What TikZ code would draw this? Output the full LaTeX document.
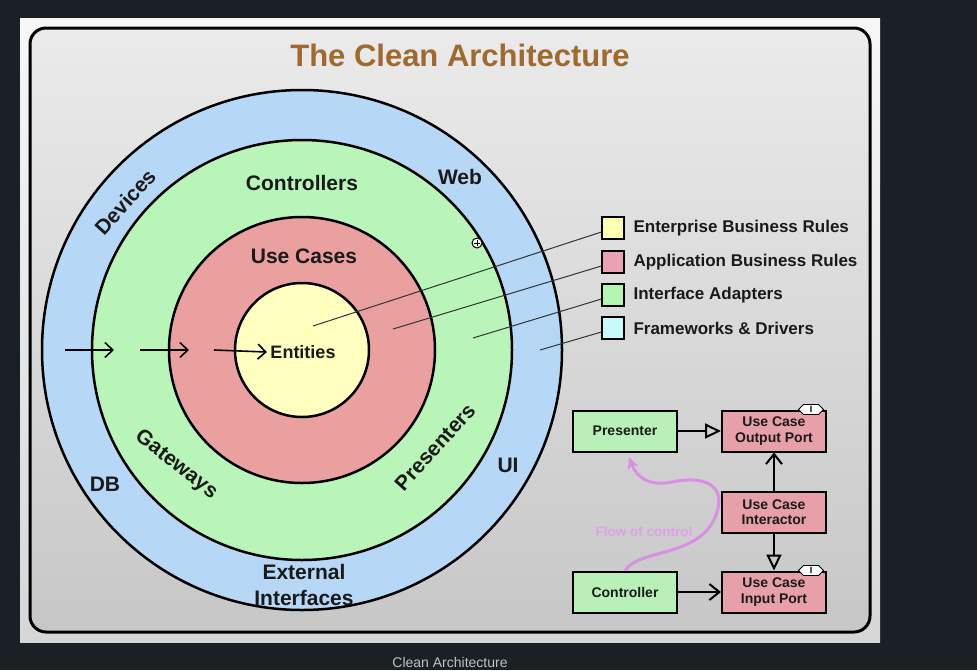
\documentclass[tikz,border=0pt]{standalone}
\usepackage{fontspec}
\setmainfont{Liberation Sans}
\usetikzlibrary{arrows.meta,shapes.symbols}

\definecolor{darkbg}{HTML}{1B2027}
\definecolor{ttl}{HTML}{A0692E}
\definecolor{txt}{HTML}{1A1A1A}
\definecolor{cBlue}{HTML}{B6D7F5}
\definecolor{cGreen}{HTML}{B9F5B9}
\definecolor{cRed}{HTML}{EBA0A0}
\definecolor{cYellow}{HTML}{FFFFC0}
\definecolor{kYellow}{HTML}{FFFFB3}
\definecolor{kPink}{HTML}{EBA0B4}
\definecolor{kGreen}{HTML}{B3F5B3}
\definecolor{kCyan}{HTML}{C8FAFA}
\definecolor{bGreen}{HTML}{B9F0B9}
\definecolor{bRed}{HTML}{E8A0A8}
\definecolor{flow}{HTML}{D990E4}
\definecolor{capgray}{HTML}{BFC2C6}

\tikzset{
	ring/.style={draw=black, line width=2.5pt},
	lbl/.style={font=\fontsize{21}{24}\selectfont\bfseries, text=txt},
	key/.style={draw=black, line width=1.2pt, minimum size=22pt, inner sep=0pt},
	keytext/.style={anchor=west, font=\fontsize{17}{20}\selectfont\bfseries, text=txt},
	box/.style={draw=black, line width=2pt, minimum width=104pt, minimum height=41pt, inner sep=0pt, align=center, font=\fontsize{14}{15.5}\selectfont\bfseries, text=txt},
	lead/.style={line width=1pt, black!80},
	into/.style={line width=1.6pt, -{Straight Barb[length=8pt, width=15pt]}},
	real/.style={line width=2pt, -{Triangle[open, length=16pt, width=15pt]}},
	dep/.style={line width=2pt, -{Straight Barb[length=10pt, width=16pt]}},
	ico/.style={shape=signal, signal to=east and west, draw=black, line width=0.8pt, fill=white, minimum width=25pt, minimum height=10pt, inner sep=0.5pt, font=\fontsize{9}{9}\selectfont\bfseries}
}

\begin{document}
\begin{tikzpicture}[x=1pt, y=-1pt]
			\useasboundingbox (0,0) rectangle (977,670);
			\fill[darkbg] (0,0) rectangle (977,670);
			\shade[top color=white!97!black, bottom color=white!84!black] (20,18) rectangle (880,642);
			\draw[line width=3pt, rounded corners=16pt, top color=white!92!black, bottom color=white!78!black] (30,28) rectangle (870,632);
			
			\node[font=\fontsize{31}{35}\selectfont\bfseries, text=ttl] (title) at (460,55) {The Clean Architecture};
			
			% rings
			\coordinate (c) at (302,350);
			\draw[ring, fill=cBlue] (c) circle (260);
			\draw[ring, fill=cGreen] (c) circle (210);
			\draw[ring, fill=cRed] (c) circle (133);
			\draw[ring, fill=cYellow] (c) circle (67);
			
			\node[lbl, rotate=48] (dev) at (125,202) {Devices};
			\node[lbl] (web) at (460,177) {Web};
			\node[lbl] (db) at (105,484) {DB};
			\node[lbl] (ui) at (508,465) {UI};
			\node[lbl, align=center, font=\fontsize{21}{26}\selectfont\bfseries] (ext) at (304,585) {External\\Interfaces};
			\node[lbl] (ctl) at (302,183) {Controllers};
			\node[lbl, rotate=-38] (gw) at (176,465) {Gateways};
			\node[lbl, rotate=48] (prs) at (435,447) {Presenters};
			\node[lbl] (uc) at (304,256) {Use Cases};
			\node[font=\fontsize{18}{20}\selectfont\bfseries, text=txt] (ent) at (303,352) {Entities};
			
			\coordinate (a1) at (65,350);
			\coordinate (a2) at (114,350);
			\coordinate (a3) at (140,350);
			\coordinate (a4) at (189,350);
			\coordinate (a5) at (214,350);
			\draw[into] (a1) -- (a2);
			\draw[into] (a3) -- (a4);
			\draw[into] (a5) -- (ent.west);
			
			\node[circle, draw=black, fill=white, line width=1pt, minimum size=10pt, inner sep=0pt] (cur) at (477,243) {};
			\draw[line width=1pt] ([xshift=-3pt]cur.center) -- ([xshift=3pt]cur.center);
			\draw[line width=1pt] ([yshift=-3pt]cur.center) -- ([yshift=3pt]cur.center);
			
			% legend
			\node[key, fill=kYellow] (kY) at (613,228) {};
			\node[key, fill=kPink] (kR) at (613,262) {};
			\node[key, fill=kGreen] (kG) at (613,295) {};
			\node[key, fill=kCyan] (kB) at (613,328) {};
			\node[keytext] at (630,228) {Enterprise Business Rules};
			\node[keytext] at (630,262) {Application Business Rules};
			\node[keytext] at (630,295) {Interface Adapters};
			\node[keytext] at (630,328) {Frameworks \& Drivers};
			
			\coordinate (pY) at (313,326);
			\coordinate (pR) at (393,329);
			\coordinate (pG) at (473,338);
			\coordinate (pB) at (540,350);
			\draw[lead] (pY) -- ([yshift=-4pt]kY.west);
			\draw[lead] (pR) -- ([yshift=-4pt]kR.west);
			\draw[lead] (pG) -- ([yshift=-4pt]kG.west);
			\draw[lead] (pB) -- ([yshift=-4pt]kB.west);
			
			% flow of control
			\node[box, fill=bGreen] (pres) at (625,431) {Presenter};
			\node[box, fill=bRed] (outp) at (774,431) {Use Case\\Output Port};
			\node[box, fill=bRed] (inter) at (774,512) {Use Case\\Interactor};
			\node[box, fill=bGreen] (ctrl) at (625,592) {Controller};
			\node[box, fill=bRed] (inp) at (774,592) {Use Case\\Input Port};
			
			\node[ico] (io) at ([xshift=-16pt]outp.north east) {I};
			\node[ico] (ii) at ([xshift=-16pt]inp.north east) {I};
			
			\draw[real] (pres) -- (outp);
			\draw[dep] (inter) -- (outp);
			\draw[real] (inter) -- (inp);
			\draw[dep] (ctrl) -- (inp);
			
			\coordinate (fc) at (629,457);
			\draw[flow, line width=3pt, -{Stealth[length=12pt, width=11pt]}] (ctrl.north) .. controls (640,548) and (700,558) .. (716,515) .. controls (728,482) and (700,476) .. (672,482) .. controls (648,487) and (636,476) .. (fc);
			\node[text=flow!85!white, font=\fontsize{13.5}{15}\selectfont\bfseries] (fl) at (644,532) {Flow of control};
			
			\node[font=\fontsize{14}{16}\selectfont, text=capgray] (cap) at (450,662) {Clean Architecture};
		\end{tikzpicture}
\end{document}
